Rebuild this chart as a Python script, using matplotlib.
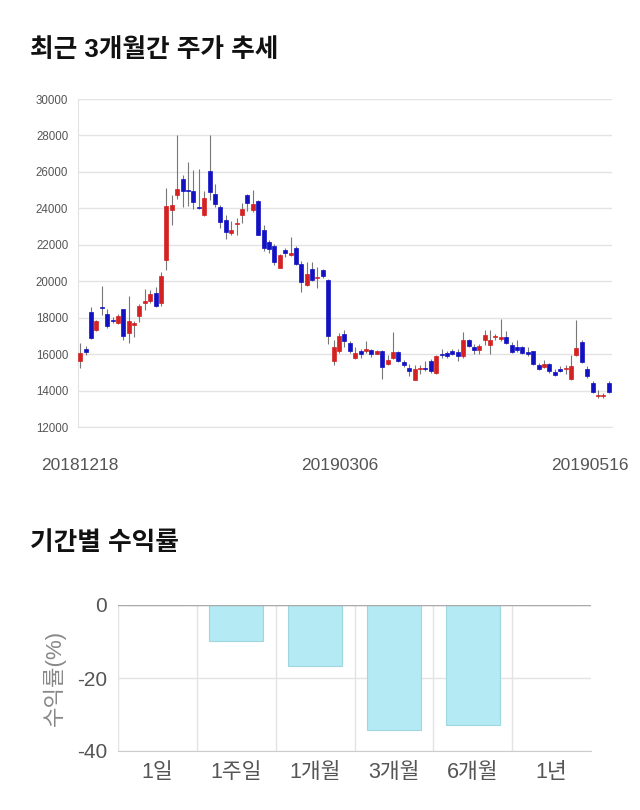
import numpy as np
import matplotlib.pyplot as plt
from matplotlib.transforms import ScaledTranslation

plt.rcParams['font.family'] = ['Liberation Sans', 'Noto Sans CJK KR', 'DejaVu Sans']
plt.rcParams['axes.unicode_minus'] = False

# daily candles, 20181218 .. 20190516
opens = [15620, 16280, 18290, 17320, 18570, 18180, 17870, 17680, 18450, 17140,
         17590, 18100, 18830, 18900, 19360, 18780, 21150, 23890, 24750, 25630,
         24990, 24950, 24070, 23650, 26030, 24770, 24070, 23340, 22650, 23160,
         23620, 24750, 23890, 24400, 22830, 22160, 21940, 20730, 21700, 21460,
         21830, 20950, 19800, 20680, 20170, 20590, 20040, 15610, 16150, 17080,
         16630, 15790, 16150, 16150, 16250, 16030, 16150, 15440, 15810, 16090,
         15570, 15250, 14600, 15200, 15250, 15620, 14970, 16000, 16060, 16190,
         16130, 15870, 16750, 16410, 16220, 16750, 16500, 16950, 16840, 16930,
         16510, 16370, 16410, 16130, 16150, 15380, 15310, 15440, 15010, 15140,
         15160, 14640, 15940, 16690, 15160, 14410, 13680, 13700, 14410]
highs = [16590, 16460, 18600, 17870, 19740, 18500, 18050, 18180, 18500, 19180,
         17810, 18740, 19550, 19510, 19690, 20480, 25110, 24710, 28000, 25810,
         26540, 26120, 26140, 24950, 28040, 25350, 24200, 23620, 23290, 23470,
         24310, 24800, 24990, 24440, 23070, 22250, 22070, 21520, 21830, 22410,
         21960, 21130, 21040, 21040, 20770, 20680, 20130, 16750, 17170, 17300,
         16700, 16390, 16300, 16720, 16300, 16210, 16210, 15930, 17200, 16180,
         15680, 15440, 15380, 15380, 15620, 15720, 15940, 16280, 16190, 16280,
         16280, 17210, 16850, 16570, 16570, 17310, 17310, 17100, 17950, 17250,
         16660, 16750, 16470, 16380, 16190, 15530, 15680, 15530, 15160, 15330,
         15380, 15940, 17870, 16750, 15330, 14500, 14040, 13850, 14500]
lows = [15220, 15950, 16850, 17280, 18140, 17410, 17680, 17650, 16770, 16590,
        16950, 17770, 18410, 18780, 18600, 18650, 20600, 23110, 24530, 24070,
        24130, 23980, 23980, 23580, 24440, 24070, 22920, 22290, 22560, 22560,
        23200, 23840, 23800, 22520, 21640, 21570, 20880, 20700, 21340, 21400,
        20900, 19400, 19730, 19990, 19620, 20170, 16570, 15420, 16080, 16390,
        16080, 15750, 15790, 16080, 15840, 15990, 14660, 15390, 15750, 15570,
        15310, 14820, 14560, 14930, 15100, 14970, 14930, 15800, 15810, 15940,
        15630, 15810, 16380, 16000, 16000, 16500, 16000, 16750, 16700, 16560,
        16060, 16130, 16000, 15870, 15380, 15120, 15250, 14970, 14820, 15010,
        14930, 14600, 15870, 15530, 14700, 13880, 13570, 13570, 13880]
closes = [16040, 16100, 16900, 17830, 18540, 17540, 17810, 18080, 17010, 17830,
          17720, 18650, 18900, 19310, 18650, 20300, 24130, 24170, 25040, 24950,
          24940, 24350, 24020, 24570, 24900, 24220, 23250, 22700, 22830, 23220,
          23980, 24310, 24220, 22560, 21830, 21790, 21060, 21430, 21540, 21550,
          20950, 19950, 20400, 20040, 20220, 20280, 16990, 16390, 16970, 16720,
          16150, 16080, 16030, 16300, 15990, 16150, 15290, 15700, 16120, 15630,
          15380, 15070, 15160, 15250, 15200, 15070, 15870, 15970, 15870, 16000,
          15870, 16750, 16430, 16220, 16470, 17070, 16780, 17000, 16930, 16620,
          16130, 16220, 16060, 16000, 15440, 15200, 15440, 15070, 14880, 15100,
          15230, 15350, 16320, 15570, 14790, 13940, 13720, 13740, 13940]
date_labels = ['20181218', '20190306', '20190516']
date_index = [0, 49, 98]

periods = ['1일', '1주일', '1개월', '3개월', '6개월', '1년']
returns = [0.0, -9.9, -16.8, -34.2, -32.9, 0.0]

fig = plt.figure(figsize=(6.4, 8.1), dpi=100)

# ---- top: price candles
ax = fig.add_axes([78 / 640, 1 - 427 / 810, 534 / 640, 328 / 810])
x = np.arange(len(opens))
o = np.array(opens)
c = np.array(closes)
up = c >= o
colors = np.where(up, '#d42222', '#1212c2')
ax.vlines(x, lows, highs, color='#777777', linewidth=0.8, zorder=2)
body_bottom = np.minimum(o, c)
body_height = np.maximum(np.abs(c - o), 60)
ax.bar(x, body_height, bottom=body_bottom, width=0.74, color=colors,
       edgecolor=colors, linewidth=0.5, zorder=3)

ax.set_xlim(-0.4, 98.6)
ax.set_ylim(12000, 30000)
ax.set_yticks(np.arange(12000, 30001, 2000))
ax.tick_params(axis='y', length=0, labelsize=8.3, labelcolor='#555555', pad=7)
ax.grid(axis='y', color='#e3e3e3', linewidth=1)
ax.set_axisbelow(True)
for s in ['top', 'right']:
    ax.spines[s].set_visible(False)
ax.spines['left'].set_color('#e3e3e3')
ax.spines['bottom'].set_color('#e3e3e3')

ax.set_xticks(date_index)
ax.set_xticklabels(date_labels)
ax.tick_params(axis='x', length=0, labelsize=12.5, labelcolor='#555555', pad=22)
shifts = [0, -5, -19]
for lab, dx in zip(ax.get_xticklabels(), shifts):
    lab.set_transform(lab.get_transform() + ScaledTranslation(dx / 100, 0, fig.dpi_scale_trans))

fig.text(30 / 640, 1 - 50 / 810, '최근 3개월간 주가 추세', fontsize=18.5, fontweight='bold',
         color='#111111', va='center', ha='left')
fig.text(30 / 640, 1 - 543 / 810, '기간별 수익률', fontsize=18.5, fontweight='bold',
         color='#111111', va='center', ha='left')

# ---- bottom: period returns
ax2 = fig.add_axes([118 / 640, 1 - 751 / 810, 473 / 640, 146 / 810])
xb = np.arange(len(periods))
ax2.bar(xb, returns, width=0.68, color='#b3eaf3', edgecolor='#9fd6e0', linewidth=0.8, zorder=3)
ax2.set_xlim(-0.5, 5.5)
ax2.set_ylim(-40, 0)
ax2.set_yticks([0, -20, -40])
ax2.set_xticks(xb)
ax2.set_xticklabels(periods)
ax2.set_xticks(np.arange(-0.5, 5, 1), minor=True)
ax2.grid(axis='x', which='minor', color='#e3e3e3', linewidth=1)
ax2.grid(axis='y', which='major', color='#e3e3e3', linewidth=1)
ax2.axhline(0, color='#aaaaaa', linewidth=1, zorder=4)
ax2.tick_params(axis='both', which='both', length=0)
ax2.tick_params(axis='y', labelsize=15, labelcolor='#555555', pad=8)
ax2.tick_params(axis='x', labelsize=15.5, labelcolor='#555555', pad=8)
for s in ['top', 'right', 'left']:
    ax2.spines[s].set_visible(False)
ax2.spines['bottom'].set_color('#cccccc')
ax2.set_ylabel('수익률(%)', fontsize=16, color='#888888', labelpad=8)

fig.savefig('out.png', dpi=100, facecolor='white')
